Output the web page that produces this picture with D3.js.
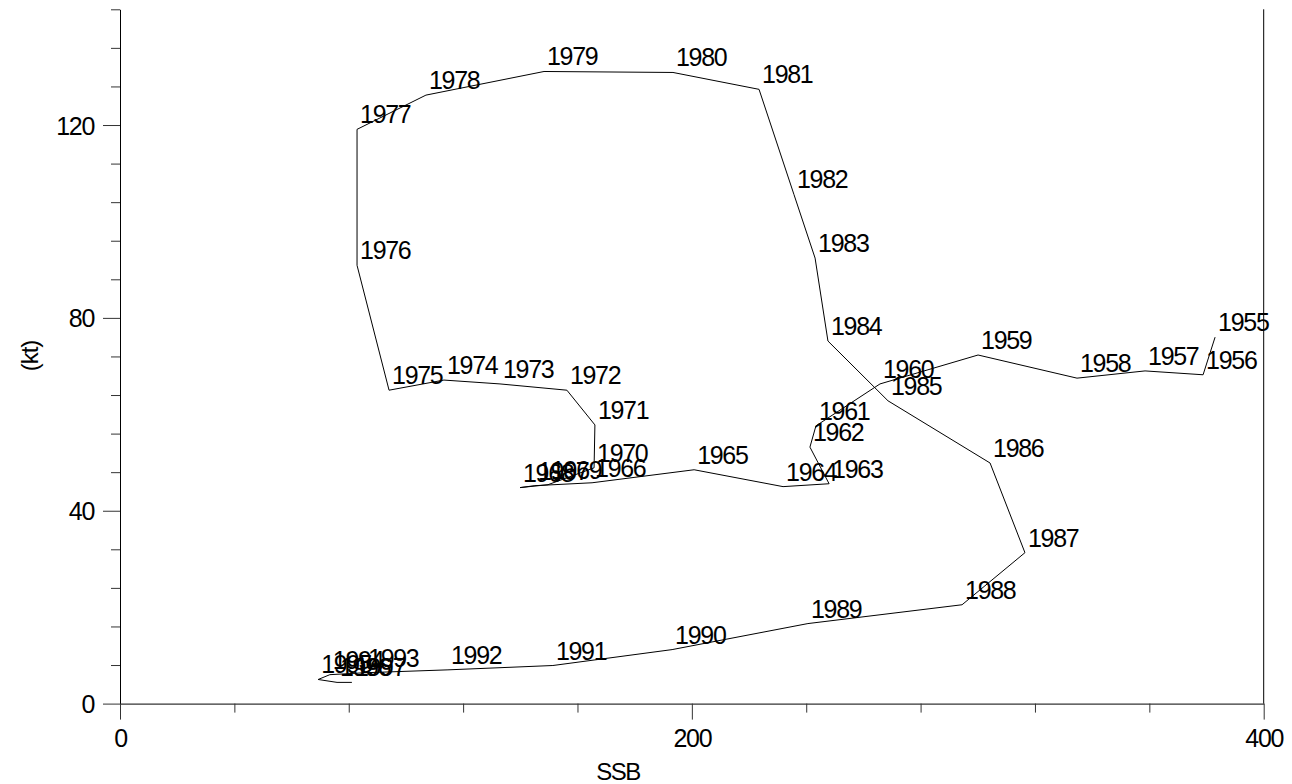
<!DOCTYPE html>
<html><head><meta charset="utf-8">
<script src="https://cdn.jsdelivr.net/npm/d3@7"></script>
<style>
html,body{margin:0;padding:0;background:#fff;}
text{font-family:"Liberation Sans",Arial,sans-serif;}
</style></head>
<body><svg id="c" width="1292" height="784"></svg>
<script>
const years = [1955,1956,1957,1958,1959,1960,1961,1962,1963,1964,1965,1966,1967,1968,1969,1970,1971,1972,1973,1974,1975,1976,1977,1978,1979,1980,1981,1982,1983,1984,1985,1986,1987,1988,1989,1990,1991,1992,1993,1994,1995,1996,1997];
const ssb = [383.0,378.8,358.5,334.7,300.1,265.8,243.4,241.3,248.0,231.9,200.8,165.1,145.1,139.9,149.7,165.8,166.1,156.3,132.9,113.3,94.1,82.9,82.9,107.0,148.3,193.4,223.5,235.7,243.1,247.6,268.6,304.3,316.5,294.5,240.6,193.1,151.4,114.7,85.7,73.4,69.3,75.9,81.1];
const landings = [76.0,68.2,69.0,67.5,72.3,66.3,57.6,53.2,45.6,45.0,48.5,45.8,45.2,44.8,45.4,48.9,57.8,65.0,66.3,67.1,65.0,90.9,119.1,126.2,131.1,130.9,127.4,105.6,92.4,75.2,62.8,49.9,31.3,20.5,16.6,11.2,7.9,7.0,6.4,6.0,5.0,4.4,4.4];
const xMajor = [0,200,400];
const xMinor = [40,80,120,160,240,280,320,360];
const yMajor = [0,40,80,120];
const yMinor = [8,16,24,32,48,56,64,72,88,96,104,112,128,136,144];
const xTitle = "SSB";
const yTitle = "(kt)";

const svg = d3.select("#c");
const x = d3.scaleLinear().domain([0,400]).range([120,1263.7]);
const y = d3.scaleLinear().domain([0,144]).range([703.6,9.3]);
const fs = "25px", ls = "-1.3px";

// y axis
const gy = svg.append("g").attr("transform","translate(120,0)");
gy.call(d3.axisLeft(y).tickValues(yMajor).tickSize(17).tickSizeOuter(0).tickPadding(10).tickFormat(d3.format("d")));
gy.select(".domain").attr("stroke","#000");
gy.selectAll(".tick line").attr("stroke","#333");
gy.selectAll(".tick text").attr("font-size",fs).attr("letter-spacing",ls).attr("fill","#000").attr("x",-26).attr("dy","0.36em").attr("font-family",null);
const gy2 = svg.append("g").attr("transform","translate(120,0)");
gy2.call(d3.axisLeft(y).tickValues(yMinor).tickSize(9).tickFormat(""));
gy2.select(".domain").remove();
gy2.selectAll(".tick line").attr("stroke","#333");

// x axis
const gx = svg.append("g").attr("transform","translate(0,703.6)");
gx.call(d3.axisBottom(x).tickValues(xMajor).tickSize(16).tickSizeOuter(0).tickPadding(10).tickFormat(d3.format("d")));
gx.select(".domain").attr("stroke","#000");
gx.selectAll(".tick line").attr("stroke","#333");
gx.selectAll(".tick text").attr("font-size",fs).attr("letter-spacing",ls).attr("fill","#000").attr("y",43).attr("dy",0).attr("font-family",null);
const gx2 = svg.append("g").attr("transform","translate(0,703.6)");
gx2.call(d3.axisBottom(x).tickValues(xMinor).tickSize(9).tickFormat(""));
gx2.select(".domain").remove();
gx2.selectAll(".tick line").attr("stroke","#333");

// right frame line
svg.append("line").attr("x1",x(400)).attr("x2",x(400)).attr("y1",y(144)).attr("y2",y(0)).attr("stroke","#000");

// titles
svg.append("text").attr("x",618).attr("y",780).attr("text-anchor","middle").attr("font-size","24px").attr("letter-spacing","-1.5px").text(xTitle);
svg.append("text").attr("transform","translate(38,356) rotate(-90)").attr("text-anchor","middle").attr("font-size","24px").attr("letter-spacing","-1px").text(yTitle);

// data line
const pts = years.map((yr,i)=>({yr, s:ssb[i], c:landings[i]}));
svg.append("path").datum(pts)
  .attr("d", d3.line().x(d=>x(d.s)).y(d=>y(d.c)))
  .attr("fill","none").attr("stroke","#000").attr("stroke-width",1);

svg.append("g").selectAll("text").data(pts).join("text")
  .attr("x",d=>x(d.s)+3).attr("y",d=>y(d.c)-6)
  .attr("font-size",fs).attr("letter-spacing",ls)
  .text(d=>d.yr);
</script></body></html>
